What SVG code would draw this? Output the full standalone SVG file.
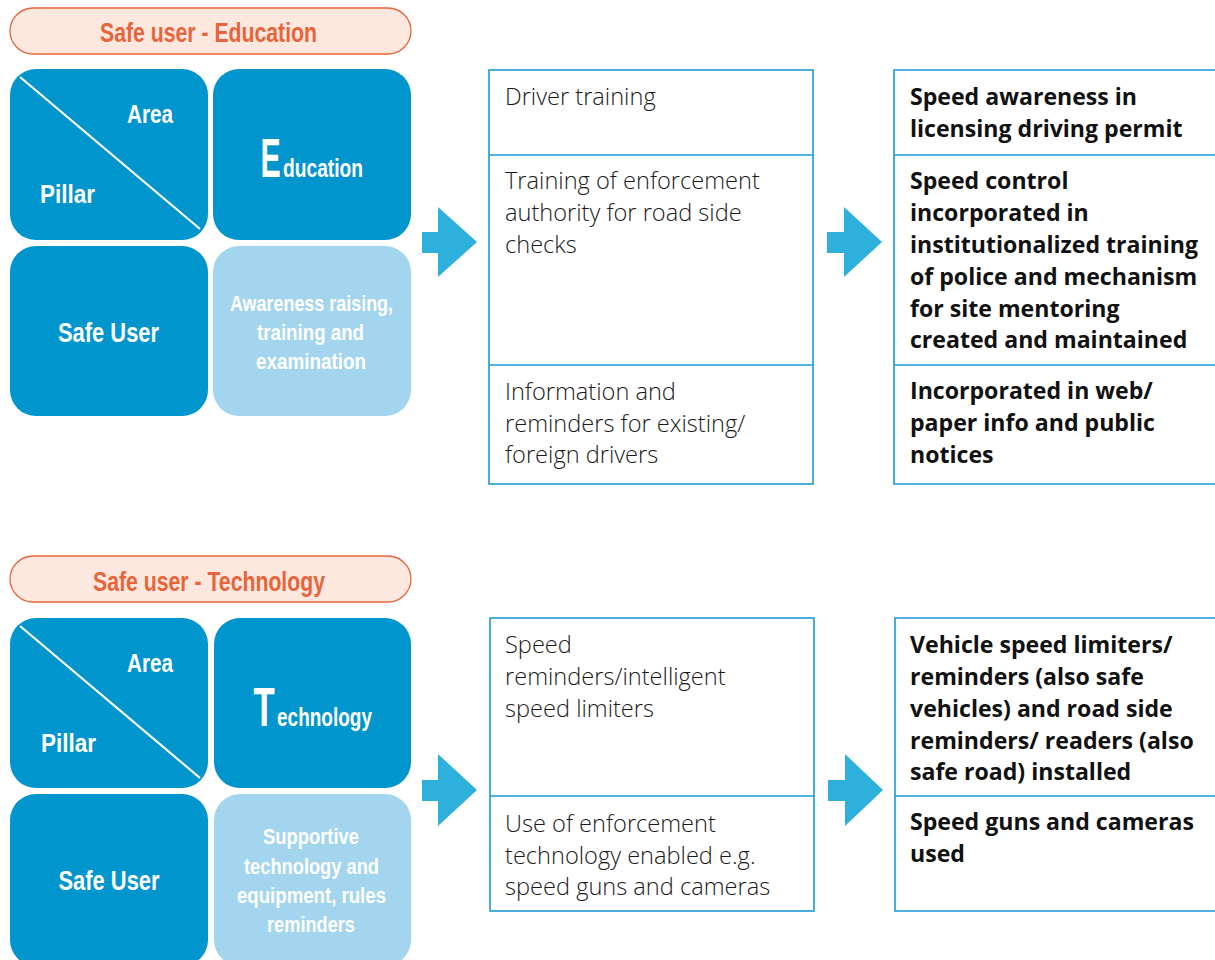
<svg xmlns="http://www.w3.org/2000/svg" width="1215" height="960" viewBox="0 0 1215 960">
<style>
.pill{fill:#fde8df;stroke:#e8643a;stroke-width:1.3}
.ptxt{font-family:"Liberation Sans",Arial,sans-serif;font-weight:bold;font-size:28px;fill:#e8643a;text-anchor:middle}
.dark{fill:#0095cd}
.light{fill:#a4d5ee}
.wt{font-family:"Liberation Sans",Arial,sans-serif;font-weight:bold;fill:#ffffff}
.mid{text-anchor:middle}
.diag{stroke:#ffffff;stroke-width:2.2}
.tbl{fill:none;stroke:#1a9ad6;stroke-width:1.6}
.arrow{fill:#2eb0dd}
.lt{font-family:"Open Sans","Liberation Sans",sans-serif;font-weight:300;font-size:23.6px;fill:#1a1a1a}
.bt{font-family:"Open Sans","Liberation Sans",sans-serif;font-weight:bold;font-size:23.1px;fill:#111111}
</style>

<!-- ===== Section 1 ===== -->
<g id="title-education">
<rect class="pill" x="10" y="8" width="401" height="46" rx="23"/>
<text class="ptxt" x="208.5" y="42" textLength="217" lengthAdjust="spacingAndGlyphs">Safe user - Education</text>
</g>
<g id="tile-area-pillar-1">
<rect class="dark" x="10" y="69" width="198" height="171" rx="26"/>
<line class="diag" x1="20" y1="77" x2="200" y2="229"/>
<text class="wt" x="127" y="123" font-size="26" textLength="46" lengthAdjust="spacingAndGlyphs">Area</text>
<text class="wt" x="40" y="203" font-size="26" textLength="55" lengthAdjust="spacingAndGlyphs">Pillar</text>
</g>
<g id="tile-education">
<rect class="dark" x="213" y="69" width="198" height="171" rx="26"/>
<text class="wt" transform="translate(260.5,177) scale(0.54,1)" font-size="56">E</text>
<text class="wt" x="283" y="177" font-size="26" textLength="80" lengthAdjust="spacingAndGlyphs">ducation</text>
</g>
<g id="tile-safe-user-1">
<rect class="dark" x="10" y="246" width="198" height="170" rx="26"/>
<text class="wt mid" x="108.5" y="342" font-size="27" textLength="101" lengthAdjust="spacingAndGlyphs">Safe User</text>
</g>
<g id="tile-awareness">
<rect class="light" x="213" y="246" width="198" height="170" rx="26"/>
<text class="wt mid" x="311.5" y="311" font-size="22" textLength="163" lengthAdjust="spacingAndGlyphs">Awareness raising,</text>
<text class="wt mid" x="310.5" y="340" font-size="22" textLength="107" lengthAdjust="spacingAndGlyphs">training and</text>
<text class="wt mid" x="311" y="369" font-size="22" textLength="110" lengthAdjust="spacingAndGlyphs">examination</text>
</g>

<g id="connectors">
<polygon class="arrow" points="422,232 438,232 438,207 477,242 438,277 438,253 422,253"/>
<polygon class="arrow" points="827,232 844,232 844,207 882,242 844,277 844,253 827,253"/>
<polygon class="arrow" points="422,780 438,780 438,754 477,790 438,826 438,801 422,801"/>
<polygon class="arrow" points="828,780 845,780 845,754 883,790 845,826 845,801 828,801"/>
</g>

<g id="table-actions-education">
<rect class="tbl" x="489" y="70" width="324" height="414"/>
<line class="tbl" x1="489" y1="155" x2="813" y2="155"/>
<line class="tbl" x1="489" y1="365" x2="813" y2="365"/>
<text class="lt" x="505" y="105">Driver training</text>
<text class="lt" x="505" y="189">Training of enforcement</text>
<text class="lt" x="505" y="221">authority for road side</text>
<text class="lt" x="505" y="253">checks</text>
<text class="lt" x="505" y="400">Information and</text>
<text class="lt" x="505" y="432">reminders for existing/</text>
<text class="lt" x="505" y="463">foreign drivers</text>
</g>

<g id="table-results-education">
<path class="tbl" d="M1216,70 H894 V484 H1216"/>
<line class="tbl" x1="894" y1="155" x2="1216" y2="155"/>
<line class="tbl" x1="894" y1="365" x2="1216" y2="365"/>
<text class="bt" x="910" y="105">Speed awareness in</text>
<text class="bt" x="910" y="137">licensing driving permit</text>
<text class="bt" x="910" y="189">Speed control</text>
<text class="bt" x="910" y="221">incorporated in</text>
<text class="bt" x="910" y="253">institutionalized training</text>
<text class="bt" x="910" y="285">of police and mechanism</text>
<text class="bt" x="910" y="317">for site mentoring</text>
<text class="bt" x="910" y="348">created and maintained</text>
<text class="bt" x="910" y="399">Incorporated in web/</text>
<text class="bt" x="910" y="431">paper info and public</text>
<text class="bt" x="910" y="463">notices</text>
</g>

<!-- ===== Section 2 ===== -->
<g id="title-technology">
<rect class="pill" x="10" y="556" width="401" height="46" rx="23"/>
<text class="ptxt" x="209" y="591" textLength="232" lengthAdjust="spacingAndGlyphs">Safe user - Technology</text>
</g>
<g id="tile-area-pillar-2">
<rect class="dark" x="10" y="618" width="198" height="170" rx="26"/>
<line class="diag" x1="20" y1="626" x2="200" y2="778"/>
<text class="wt" x="127" y="672" font-size="26" textLength="46" lengthAdjust="spacingAndGlyphs">Area</text>
<text class="wt" x="41" y="752" font-size="26" textLength="55" lengthAdjust="spacingAndGlyphs">Pillar</text>
</g>
<g id="tile-technology">
<rect class="dark" x="214" y="618" width="197" height="170" rx="26"/>
<text class="wt" transform="translate(253.5,726) scale(0.62,1)" font-size="56">T</text>
<text class="wt" x="277" y="726" font-size="26" textLength="95" lengthAdjust="spacingAndGlyphs">echnology</text>
</g>
<g id="tile-safe-user-2">
<rect class="dark" x="10" y="794" width="198" height="172" rx="26"/>
<text class="wt mid" x="109" y="890" font-size="27" textLength="101" lengthAdjust="spacingAndGlyphs">Safe User</text>
</g>
<g id="tile-supportive">
<rect class="light" x="214" y="794" width="197" height="172" rx="26"/>
<text class="wt mid" x="311" y="844" font-size="22" textLength="96" lengthAdjust="spacingAndGlyphs">Supportive</text>
<text class="wt mid" x="311.5" y="874" font-size="22" textLength="135" lengthAdjust="spacingAndGlyphs">technology and</text>
<text class="wt mid" x="311.5" y="903" font-size="22" textLength="149" lengthAdjust="spacingAndGlyphs">equipment, rules</text>
<text class="wt mid" x="311" y="932" font-size="22" textLength="88" lengthAdjust="spacingAndGlyphs">reminders</text>
</g>

<g id="table-actions-technology">
<rect class="tbl" x="490" y="618" width="324" height="293"/>
<line class="tbl" x1="490" y1="796" x2="814" y2="796"/>
<text class="lt" x="505" y="653">Speed</text>
<text class="lt" x="505" y="685">reminders/intelligent</text>
<text class="lt" x="505" y="717">speed limiters</text>
<text class="lt" x="505" y="832">Use of enforcement</text>
<text class="lt" x="505" y="864">technology enabled e.g.</text>
<text class="lt" x="505" y="895">speed guns and cameras</text>
</g>

<g id="table-results-technology">
<path class="tbl" d="M1216,618 H895 V911 H1216"/>
<line class="tbl" x1="895" y1="796" x2="1216" y2="796"/>
<text class="bt" x="910" y="653">Vehicle speed limiters/</text>
<text class="bt" x="910" y="685">reminders (also safe</text>
<text class="bt" x="910" y="717">vehicles) and road side</text>
<text class="bt" x="910" y="749">reminders/ readers (also</text>
<text class="bt" x="910" y="780">safe road) installed</text>
<text class="bt" x="910" y="830">Speed guns and cameras</text>
<text class="bt" x="910" y="862">used</text>
</g>
</svg>
